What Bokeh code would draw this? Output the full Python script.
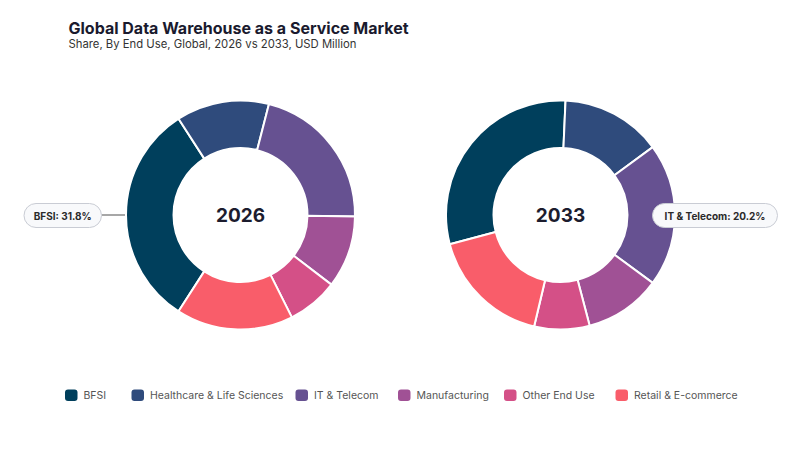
import math
from bokeh.plotting import figure
from bokeh.models import Range1d, ColumnDataSource
from bokeh.core.properties import value
from bokeh.embed import file_html
from bokeh.resources import INLINE

# ---- data ----
categories = ["BFSI", "Healthcare & Life Sciences", "IT & Telecom",
              "Manufacturing", "Other End Use", "Retail & E-commerce"]
share_2026 = [31.8, 13.1, 21.2, 10.2, 7.2, 16.5]
share_2033 = [29.8, 14.2, 20.2, 10.8, 7.8, 17.2]
years = ["2026", "2033"]
colors = ["#003f5c", "#2f4b7c", "#665191", "#a05195", "#d45087", "#f95d6a"]

TITLE = "Global Data Warehouse as a Service Market"
SUBTITLE = "Share, By End Use, Global, 2026 vs 2033, USD Million"

W, H = 800, 450
FONT = "Inter"

def Y(y):
    return H - y

p = figure(width=W, height=H, x_range=Range1d(0, W), y_range=Range1d(0, H),
           output_backend="svg", toolbar_location=None, min_border=0)
p.axis.visible = False
p.xgrid.visible = False
p.ygrid.visible = False
p.outline_line_color = None
p.background_fill_color = "white"
p.border_fill_color = "white"

R_OUT, R_IN = 114.5, 67
centers = [(240, 214.5), (560, 214.5)]
highlight = [0, 2]          # labelled category per donut
target = [270.0, 90.0]      # clockwise-from-top angle of the labelled slice centre

def donut(vals, cx, cy, h, tgt):
    cum = [0.0]
    for v in vals:
        cum.append(cum[-1] + v)
    total = cum[-1]
    th0 = tgt - (cum[h] + vals[h] / 2) / total * 360.0
    starts, ends = [], []
    for i, v in enumerate(vals):
        a1 = th0 + cum[i] / total * 360.0
        a2 = a1 + v / total * 360.0
        starts.append(math.radians(90 - a2))
        ends.append(math.radians(90 - a1))
    src = ColumnDataSource(dict(x=[cx] * len(vals), y=[Y(cy)] * len(vals),
                                start=starts, end=ends, color=colors, cat=categories))
    p.annular_wedge(x="x", y="y", inner_radius=R_IN, outer_radius=R_OUT,
                    start_angle="start", end_angle="end", fill_color="color",
                    line_color="white", line_width=2, source=src)

# leader line for left label (drawn under donut)
p.line(x=[101, 132], y=[Y(214.5), Y(214.5)], line_color="#8a8a8a", line_width=1.5)

for k, vals in enumerate([share_2026, share_2033]):
    cx, cy = centers[k]
    donut(vals, cx, cy, highlight[k], target[k])
    p.text(x=[cx], y=[Y(cy - 0.5)], text=[years[k]], text_font=value(FONT),
           text_font_size="19px", text_font_style="bold", text_color="#1c1c2e",
           text_align="center", text_baseline="middle")

# callout labels
boxes = [(23.5, 101, 203, 227), (652, 777, 203, 227)]
for k, vals in enumerate([share_2026, share_2033]):
    h = highlight[k]
    l, r, t, b = boxes[k]
    p.quad(left=[l], right=[r], top=[Y(t)], bottom=[Y(b)], fill_color="#f8f9fb",
           line_color="#c9ccd4", line_width=1, border_radius=12)
    p.text(x=[(l + r) / 2], y=[Y((t + b) / 2)], text=[f"{categories[h]}: {vals[h]}%"],
           text_font=value(FONT), text_font_size="10px", text_font_style="bold",
           text_color="#2a2a2a", text_align="center", text_baseline="middle")

# title / subtitle
p.text(x=[68], y=[Y(27.5)], text=[TITLE], text_font=value(FONT), text_font_size="16px",
       text_font_style="bold", text_color="#1a1a2e", text_align="left",
       text_baseline="alphabetic")
p.text(x=[68], y=[Y(43.5)], text=[SUBTITLE], text_font=value(FONT), text_font_size="11.3px",
       text_color="#333333", text_align="left", text_baseline="alphabetic")

# legend
marker_x = [64.5, 131, 295, 397.5, 503.5, 615]
for i, cat in enumerate(categories):
    mx = marker_x[i]
    p.quad(left=[mx], right=[mx + 12.5], top=[Y(389)], bottom=[Y(400.5)],
           fill_color=colors[i], line_color=None, border_radius=3)
    p.text(x=[mx + 18.5], y=[Y(394.5)], text=[cat], text_font=value(FONT),
           text_font_size="10.5px", text_color="#555555", text_align="left",
           text_baseline="middle")

open("out.html", "w").write(file_html(p, INLINE))
